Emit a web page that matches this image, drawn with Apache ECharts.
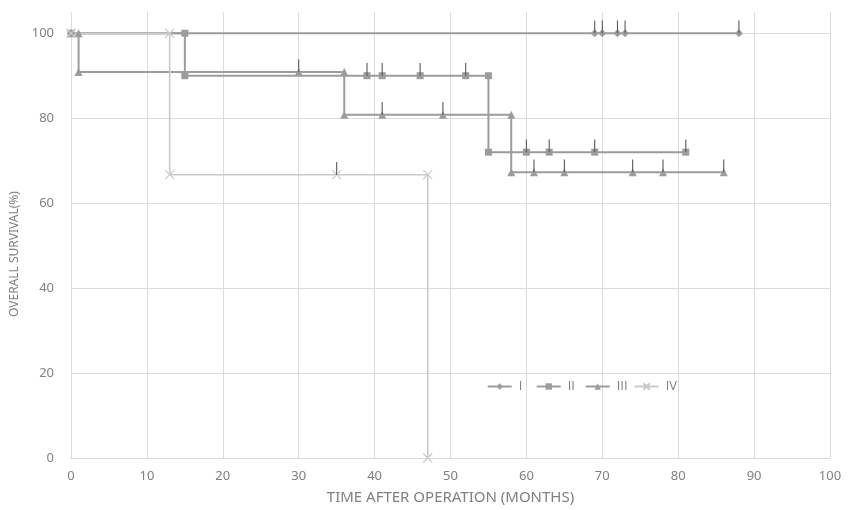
<!DOCTYPE html>
<html><head><meta charset="utf-8">
<script src="https://cdn.jsdelivr.net/npm/echarts@6/dist/echarts.min.js"></script>
<style>html,body{margin:0;padding:0;background:#fff}#c{width:857px;height:510px}</style>
</head><body><div id="c"></div>
<script>
// Kaplan-Meier style step data (months, survival %)
const seriesNames = ['I', 'II', 'III', 'IV'];
const xI = [0, 69, 70, 72, 73, 88];
const yI = [100, 100, 100, 100, 100, 100];
const xII = [0, 15, 15, 39, 41, 46, 52, 55, 55, 60, 63, 69, 81];
const yII = [100, 100, 90, 90, 90, 90, 90, 90, 72, 72, 72, 72, 72];
const xIII = [0, 1, 1, 30, 36, 36, 41, 49, 58, 58, 61, 65, 74, 78, 86];
const yIII = [100, 100, 90.9, 90.9, 90.9, 80.8, 80.8, 80.8, 80.8, 67.3, 67.3, 67.3, 67.3, 67.3, 67.3];
const xIV = [0, 13, 13, 35, 47, 47];
const yIV = [100, 100, 66.7, 66.7, 66.7, 0];
// censored observations (tick marks)
const censorX = [69, 70, 72, 73, 88, 39, 41, 46, 52, 60, 63, 69, 81, 30, 41, 49, 61, 65, 74, 78, 86, 35];
const censorY = [100, 100, 100, 100, 100, 90, 90, 90, 90, 72, 72, 72, 72, 90.9, 80.8, 80.8, 67.3, 67.3, 67.3, 67.3, 67.3, 66.7];
const xTicks = [0, 10, 20, 30, 40, 50, 60, 70, 80, 90, 100];
const yTicks = [0, 20, 40, 60, 80, 100];

const FONT = "'Noto Sans', sans-serif";
const LEGEND_FONT = "'Open Sans', 'Liberation Sans', sans-serif";
const TXT = '#808080';
const DARK = '#9c9c9c';
const LIGHT = '#cacaca';
const tickLen = 3;

const zip = (xs, ys) => xs.map((x, i) => [x, ys[i]]);
const xPath = 'path://M0,0L10,10M10,0L0,10';

const chart = echarts.init(document.getElementById('c'), null, {renderer: 'canvas'});
function lineSeries(name, xs, ys, color, symbol, size, width) {
  return {
    name, type: 'line', data: zip(xs, ys), symbol, symbolSize: size,
    showAllSymbol: true, animation: false,
    lineStyle: {color, width},
    itemStyle: {color, borderColor: color, borderWidth: symbol === xPath ? 1.2 : 0},
    emphasis: {disabled: true}
  };
}
// one legend per entry so the entries are evenly spaced like the original
const legends = seriesNames.map((n, i) => ({
  data: [n], left: 481.7 + i * 49, top: 375, itemWidth: 24, itemHeight: 8, selectedMode: false,
  textStyle: {color: TXT, fontSize: 13, fontFamily: LEGEND_FONT, padding: [0, 0, 0, 2]}
}));
chart.setOption({
  animation: false,
  textStyle: {fontFamily: FONT},
  grid: {left: 71, right: 27, top: 12, bottom: 48},
  legend: legends,
  xAxis: {
    type: 'value', min: xTicks[0], max: xTicks[xTicks.length - 1], interval: 10,
    name: 'TIME AFTER OPERATION (MONTHS)', nameLocation: 'middle', nameGap: 32,
    nameTextStyle: {color: TXT, fontSize: 15, fontFamily: FONT},
    axisLine: {show: true, lineStyle: {color: '#d9d9d9', width: 1}},
    axisTick: {show: false},
    axisLabel: {color: TXT, fontSize: 13, margin: 12, fontFamily: FONT},
    splitLine: {show: true, lineStyle: {color: '#dcdcdc', width: 1}}
  },
  yAxis: {
    type: 'value', min: yTicks[0], max: 105, interval: 20,
    name: 'OVERALL SURVIVAL(%)', nameLocation: 'middle', nameGap: 44,
    nameTextStyle: {color: TXT, fontSize: 12, fontFamily: FONT, padding: [0, 0, 0, -38]},
    axisLine: {show: false}, axisTick: {show: false},
    axisLabel: {color: TXT, fontSize: 13, margin: 17, showMaxLabel: false, fontFamily: FONT},
    splitLine: {show: true, showMaxLine: false, lineStyle: {color: '#dcdcdc', width: 1}}
  },
  series: [
    lineSeries('I', xI, yI, DARK, 'diamond', 8, 2),
    lineSeries('II', xII, yII, DARK, 'rect', 7, 2),
    lineSeries('III', xIII, yIII, DARK, 'triangle', 8, 2),
    lineSeries('IV', xIV, yIV, LIGHT, xPath, 9, 1.6),
    {
      name: 'censor', type: 'custom', z: 5, animation: false,
      data: zip(censorX, censorY),
      renderItem: function (params, api) {
        const p0 = api.coord([api.value(0), api.value(1)]);
        const p1 = api.coord([api.value(0), api.value(1) + tickLen]);
        return {type: 'line', shape: {x1: p0[0], y1: p0[1], x2: p1[0], y2: p1[1]},
          style: {stroke: '#5a5a5a', lineWidth: 1.1}};
      }
    }
  ]
});
</script></body></html>
